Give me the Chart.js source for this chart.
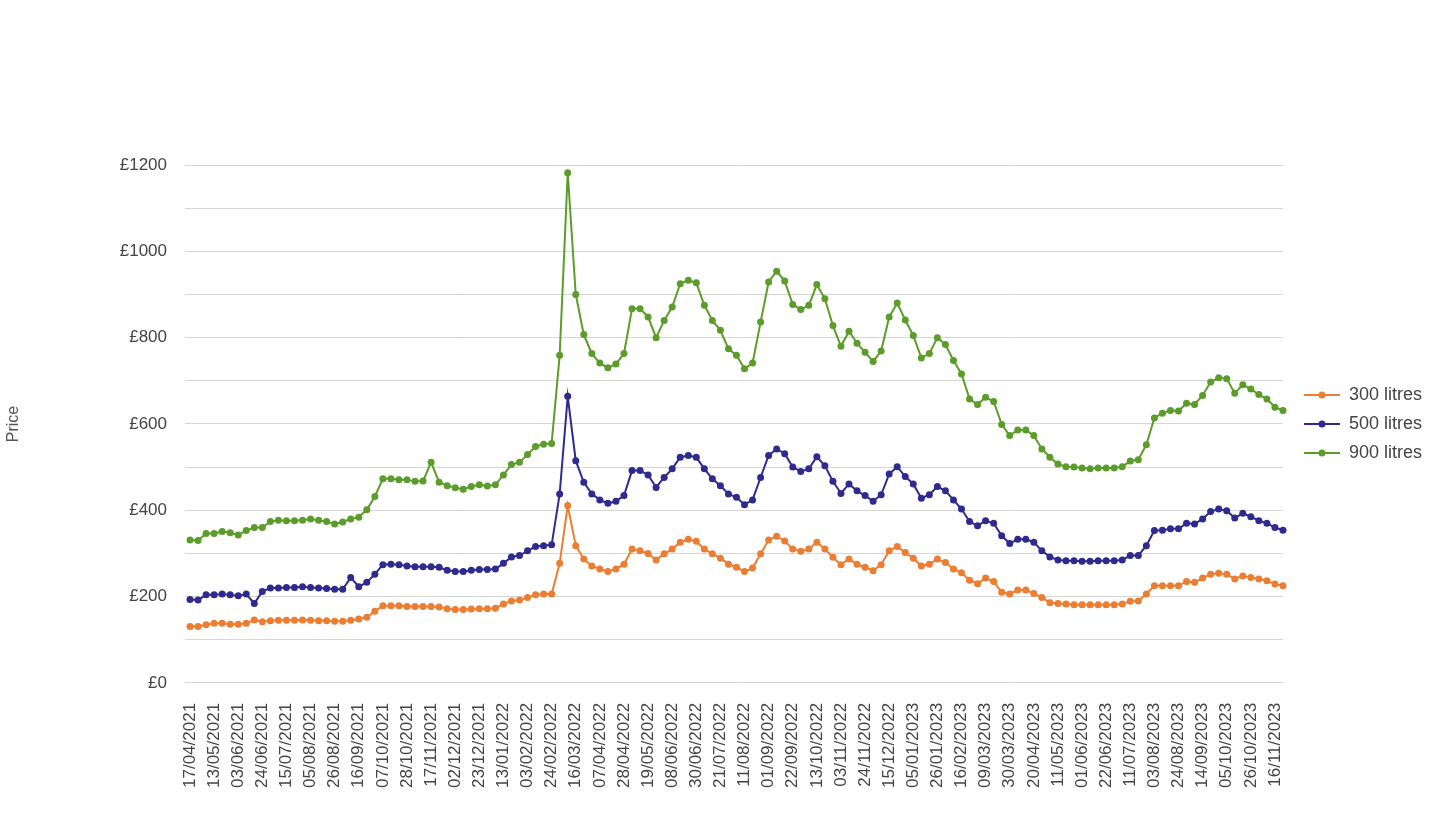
<!DOCTYPE html>
<html>
<head>
<meta charset="utf-8">
<script src="https://cdn.jsdelivr.net/npm/chart.js@4.4.1/dist/chart.umd.min.js"></script>
<style>
  html, body { margin: 0; padding: 0; background: #ffffff; }
  #wrap { width: 1440px; height: 838px; position: relative; }
</style>
</head>
<body>
<div id="wrap"><canvas id="c" width="1440" height="838"></canvas></div>
<script>
// Tick labels (every third weekly point is labelled)
const tickLabels = [
  "17/04/2021","13/05/2021","03/06/2021","24/06/2021","15/07/2021","05/08/2021","26/08/2021","16/09/2021",
  "07/10/2021","28/10/2021","17/11/2021","02/12/2021","23/12/2021","13/01/2022","03/02/2022","24/02/2022",
  "16/03/2022","07/04/2022","28/04/2022","19/05/2022","08/06/2022","30/06/2022","21/07/2022","11/08/2022",
  "01/09/2022","22/09/2022","13/10/2022","03/11/2022","24/11/2022","15/12/2022","05/01/2023","26/01/2023",
  "16/02/2023","09/03/2023","30/03/2023","20/04/2023","11/05/2023","01/06/2023","22/06/2023","11/07/2023",
  "03/08/2023","24/08/2023","14/09/2023","05/10/2023","26/10/2023","16/11/2023"
];

const seriesNames = ["300 litres", "500 litres", "900 litres"];

const litres300 = [
  131,131,135,138,138,136,136,138,146,142,
  144,145,145,145,146,145,144,144,143,143,
  145,148,152,166,179,179,179,177,177,177,
  177,176,172,170,170,171,172,172,173,183,
  190,192,198,204,206,206,277,411,318,287,
  271,264,258,264,275,310,306,300,285,299,
  310,326,333,328,310,299,289,275,268,258,
  266,299,331,340,329,310,305,310,326,310,
  291,274,287,275,268,260,274,306,316,302,
  289,271,275,287,279,264,255,238,230,243,
  235,210,206,215,215,207,198,186,184,183,
  181,181,181,181,181,181,183,189,190,206,
  225,225,225,225,235,233,243,252,254,252,
  241,248,244,241,237,229,225
];

const litres500 = [
  193,192,204,204,206,204,202,206,184,212,
  220,220,221,221,223,221,220,219,217,217,
  244,223,233,252,274,275,274,271,269,269,
  269,268,261,258,258,261,263,263,264,277,
  292,295,306,316,318,320,438,664,515,465,
  438,424,416,421,434,492,492,482,453,476,
  496,523,527,523,496,473,457,438,430,413,
  424,476,527,542,531,500,490,496,524,503,
  467,439,461,445,434,421,436,484,501,478,
  461,428,436,455,445,424,403,374,364,376,
  370,341,323,333,333,326,306,292,285,283,
  283,282,282,283,283,283,285,295,295,318,
  353,354,357,357,370,368,380,397,403,399,
  382,393,385,376,370,360,354
];

const litres900 = [
  331,330,346,346,351,348,343,353,360,360,
  374,377,376,376,377,380,377,374,368,373,
  380,384,401,432,473,473,471,471,467,468,
  511,465,457,452,449,455,459,456,459,482,
  506,511,529,548,553,555,759,1182,900,807,
  763,741,730,739,763,867,867,848,800,840,
  871,925,933,927,875,840,817,774,759,728,
  741,836,929,954,931,877,865,875,923,890,
  828,780,815,787,766,745,769,848,880,841,
  805,753,763,800,784,747,716,658,645,662,
  652,599,573,586,586,573,542,523,507,501,
  500,498,496,498,498,498,501,514,517,552,
  614,625,631,630,648,645,666,697,707,705,
  671,691,681,668,658,639,631
];

const colors = ["#ed7d31", "#2f2a8e", "#5b9c2a"];

const labels = litres300.map((_, i) => (i % 3 === 0 ? tickLabels[i / 3] : ""));

const FONT = "'Liberation Sans', Arial, sans-serif";
const TEXT = "#444444";

function legendSymbol(color) {
  const c = document.createElement("canvas");
  c.width = 46; c.height = 10;
  const g = c.getContext("2d");
  g.strokeStyle = color; g.lineWidth = 2;
  g.beginPath(); g.moveTo(10, 5); g.lineTo(46, 5); g.stroke();
  g.fillStyle = color;
  g.beginPath(); g.arc(28, 5, 3.5, 0, Math.PI * 2); g.fill();
  return c;
}
const symbols = colors.map(legendSymbol);

const datasets = [litres300, litres500, litres900].map((d, k) => ({
  label: seriesNames[k],
  data: d,
  borderColor: colors[k],
  backgroundColor: colors[k],
  borderWidth: 2,
  pointRadius: 3.5,
  pointHoverRadius: 4,
  pointBorderWidth: 0,
  tension: 0
}));

new Chart(document.getElementById("c"), {
  type: "line",
  data: { labels: labels, datasets: datasets },
  options: {
    responsive: false,
    animation: false,
    devicePixelRatio: 1,
    layout: { padding: { top: 165, bottom: 30, left: 0, right: 8 } },
    plugins: {
      tooltip: { enabled: false },
      legend: {
        position: "right",
        fullSize: false,
        align: "center",
        labels: {
          usePointStyle: true,
          pointStyleWidth: 46,
          padding: 11,
          color: TEXT,
          font: { family: FONT, size: 18 },
          generateLabels(chart) {
            const items = Chart.defaults.plugins.legend.labels.generateLabels(chart);
            items.forEach((it, i) => { it.pointStyle = symbols[i]; });
            return items;
          }
        }
      }
    },
    scales: {
      x: {
        grid: { display: false, drawTicks: false },
        border: { display: false },
        ticks: {
          autoSkip: false,
          maxRotation: 90,
          minRotation: 90,
          padding: 20,
          color: TEXT,
          font: { family: FONT, size: 17 },
          callback: (v, i) => labels[i]
        }
      },
      y: {
        min: 0,
        max: 1200,
        afterFit(scale) { scale.width = 190; },
        grid: { color: "#d6d6d6", lineWidth: 1, drawTicks: true, tickLength: 5 },
        border: { display: false },
        ticks: {
          stepSize: 100,
          padding: 18,
          color: TEXT,
          font: { family: FONT, size: 17 },
          callback: (v) => (v % 200 === 0 ? "£" + v : "")
        },
        title: {
          display: true,
          text: "Price",
          color: "#555555",
          font: { family: FONT, size: 16 },
          padding: { top: 4, bottom: 4 }
        }
      }
    }
  }
});
</script>
</body>
</html>
